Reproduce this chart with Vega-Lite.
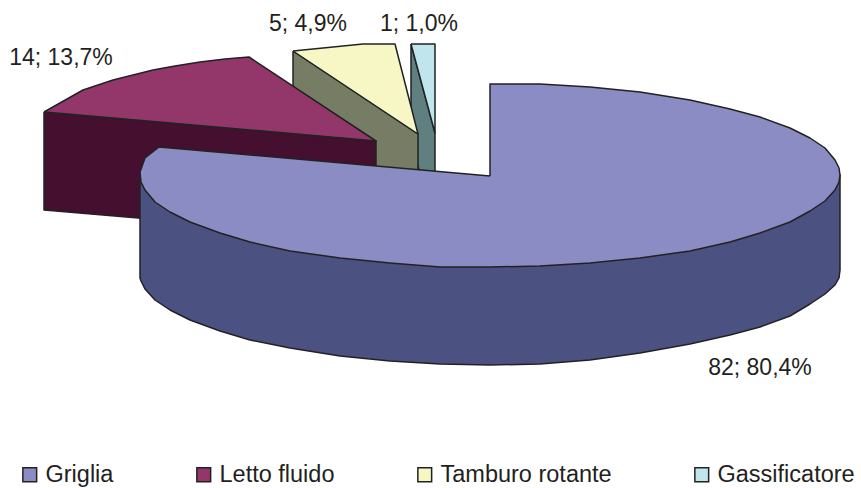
{"$schema":"https://vega.github.io/schema/vega-lite/v6.json","width":861,"height":488,"padding":0,"autosize":{"type":"none"},"background":"white","config":{"view":{"stroke":null}},"layer":[{"data":{"values":[
{"part":"Gassificatore lato","n":1,"x":411,"y":44},{"part":"Gassificatore lato","n":2,"x":435,"y":133},{"part":"Gassificatore lato","n":3,"x":435,"y":230},{"part":"Gassificatore lato","n":4,"x":411,"y":140},{"part":"Gassificatore lato","n":5,"x":411,"y":44},
{"part":"Gassificatore","n":1,"x":411,"y":44},{"part":"Gassificatore","n":2,"x":435,"y":44},{"part":"Gassificatore","n":3,"x":435,"y":133},{"part":"Gassificatore","n":4,"x":411,"y":44},
{"part":"Tamburo lato","n":1,"x":293,"y":51},{"part":"Tamburo lato","n":2,"x":418,"y":134},{"part":"Tamburo lato","n":3,"x":418,"y":200},{"part":"Tamburo lato","n":4,"x":293,"y":150},{"part":"Tamburo lato","n":5,"x":293,"y":51},
{"part":"Tamburo rotante","n":1,"x":293,"y":51},{"part":"Tamburo rotante","n":2,"x":333,"y":47},{"part":"Tamburo rotante","n":3,"x":363,"y":44},{"part":"Tamburo rotante","n":4,"x":395,"y":44},{"part":"Tamburo rotante","n":5,"x":418,"y":134},{"part":"Tamburo rotante","n":6,"x":293,"y":51},
{"part":"Letto lato","n":1,"x":44,"y":112},{"part":"Letto lato","n":2,"x":376,"y":141},{"part":"Letto lato","n":3,"x":376,"y":238},{"part":"Letto lato","n":4,"x":44,"y":210},{"part":"Letto lato","n":5,"x":44,"y":112},
{"part":"Letto fluido","n":1,"x":44,"y":112},{"part":"Letto fluido","n":2,"x":60,"y":103},{"part":"Letto fluido","n":3,"x":83,"y":90},{"part":"Letto fluido","n":4,"x":98,"y":85},{"part":"Letto fluido","n":5,"x":113,"y":80},{"part":"Letto fluido","n":6,"x":133,"y":75},{"part":"Letto fluido","n":7,"x":153,"y":70},{"part":"Letto fluido","n":8,"x":175,"y":66},{"part":"Letto fluido","n":9,"x":200,"y":62},{"part":"Letto fluido","n":10,"x":225,"y":59},{"part":"Letto fluido","n":11,"x":249,"y":57},{"part":"Letto fluido","n":12,"x":376,"y":141},{"part":"Letto fluido","n":13,"x":44,"y":112},
{"part":"Griglia lato","n":1,"x":140,"y":175},{"part":"Griglia lato","n":2,"x":140,"y":278},{"part":"Griglia lato","n":3,"x":141,"y":281},{"part":"Griglia lato","n":4,"x":145,"y":289},{"part":"Griglia lato","n":5,"x":155,"y":300},{"part":"Griglia lato","n":6,"x":170,"y":310},{"part":"Griglia lato","n":7,"x":190,"y":320},{"part":"Griglia lato","n":8,"x":220,"y":331},{"part":"Griglia lato","n":9,"x":250,"y":340},{"part":"Griglia lato","n":10,"x":290,"y":348},{"part":"Griglia lato","n":11,"x":340,"y":356},{"part":"Griglia lato","n":12,"x":390,"y":361},{"part":"Griglia lato","n":13,"x":440,"y":364},{"part":"Griglia lato","n":14,"x":490,"y":365},{"part":"Griglia lato","n":15,"x":540,"y":364},{"part":"Griglia lato","n":16,"x":590,"y":360},{"part":"Griglia lato","n":17,"x":640,"y":353},{"part":"Griglia lato","n":18,"x":690,"y":344},{"part":"Griglia lato","n":19,"x":730,"y":335},{"part":"Griglia lato","n":20,"x":760,"y":327},{"part":"Griglia lato","n":21,"x":790,"y":316},{"part":"Griglia lato","n":22,"x":810,"y":304},{"part":"Griglia lato","n":23,"x":825,"y":294},{"part":"Griglia lato","n":24,"x":835,"y":285},{"part":"Griglia lato","n":25,"x":839,"y":278},{"part":"Griglia lato","n":26,"x":840,"y":270},{"part":"Griglia lato","n":27,"x":840,"y":175},{"part":"Griglia lato","n":28,"x":490,"y":200},{"part":"Griglia lato","n":29,"x":140,"y":175},
{"part":"Griglia","n":1,"x":490,"y":176},{"part":"Griglia","n":2,"x":490,"y":84},{"part":"Griglia","n":3,"x":540,"y":84},{"part":"Griglia","n":4,"x":590,"y":87},{"part":"Griglia","n":5,"x":640,"y":92},{"part":"Griglia","n":6,"x":690,"y":100},{"part":"Griglia","n":7,"x":730,"y":109},{"part":"Griglia","n":8,"x":760,"y":117},{"part":"Griglia","n":9,"x":790,"y":128},{"part":"Griglia","n":10,"x":810,"y":138},{"part":"Griglia","n":11,"x":825,"y":148},{"part":"Griglia","n":12,"x":835,"y":160},{"part":"Griglia","n":13,"x":839,"y":168},{"part":"Griglia","n":14,"x":840,"y":175},{"part":"Griglia","n":15,"x":839,"y":182},{"part":"Griglia","n":16,"x":835,"y":190},{"part":"Griglia","n":17,"x":825,"y":201},{"part":"Griglia","n":18,"x":810,"y":211},{"part":"Griglia","n":19,"x":790,"y":222},{"part":"Griglia","n":20,"x":760,"y":233},{"part":"Griglia","n":21,"x":730,"y":242},{"part":"Griglia","n":22,"x":690,"y":251},{"part":"Griglia","n":23,"x":640,"y":258},{"part":"Griglia","n":24,"x":590,"y":263},{"part":"Griglia","n":25,"x":540,"y":266},{"part":"Griglia","n":26,"x":490,"y":267},{"part":"Griglia","n":27,"x":440,"y":267},{"part":"Griglia","n":28,"x":390,"y":263},{"part":"Griglia","n":29,"x":340,"y":258},{"part":"Griglia","n":30,"x":290,"y":251},{"part":"Griglia","n":31,"x":250,"y":242},{"part":"Griglia","n":32,"x":220,"y":233},{"part":"Griglia","n":33,"x":190,"y":222},{"part":"Griglia","n":34,"x":170,"y":212},{"part":"Griglia","n":35,"x":155,"y":202},{"part":"Griglia","n":36,"x":145,"y":190},{"part":"Griglia","n":37,"x":141,"y":182},{"part":"Griglia","n":38,"x":140,"y":172},{"part":"Griglia","n":39,"x":145,"y":158},{"part":"Griglia","n":40,"x":159,"y":147},{"part":"Griglia","n":41,"x":490,"y":176}
]},"mark":{"type":"line","stroke":"#222222","strokeWidth":1.5,"strokeJoin":"round","interpolate":"linear"},"encoding":{"x":{"field":"x","type":"quantitative","scale":{"domain":[0,861]},"axis":null},"y":{"field":"y","type":"quantitative","scale":{"domain":[488,0]},"axis":null},"order":{"field":"n","type":"quantitative"},"detail":{"field":"part"},"fill":{"field":"part","type":"nominal","sort":null,"scale":{"domain":["Griglia","Letto fluido","Tamburo rotante","Gassificatore","Griglia lato","Letto lato","Tamburo lato","Gassificatore lato"],"range":["#8A8CC3","#93366A","#F7F6C5","#C0E5EC","#4B5282","#45102F","#777C64","#5F7F80"]},"legend":{"title":null,"values":["Griglia","Letto fluido","Tamburo rotante","Gassificatore"],"orient":"none","legendX":18,"legendY":463,"direction":"horizontal","columns":4,"gridAlign":"none","columnPadding":78,"symbolType":"square","symbolSize":190,"symbolStrokeColor":"#222222","symbolStrokeWidth":1.5,"labelFont":"Liberation Sans","labelFontSize":23.5,"labelColor":"#231F20","labelLimit":300,"labelOffset":4}}}},
{"data":{"values":[{"slice":"Griglia","value":82,"pct":"80,4%","label":"82; 80,4%","x":760,"y":368},{"slice":"Letto fluido","value":14,"pct":"13,7%","label":"14; 13,7%","x":61,"y":58},{"slice":"Tamburo rotante","value":5,"pct":"4,9%","label":"5; 4,9%","x":308,"y":24},{"slice":"Gassificatore","value":1,"pct":"1,0%","label":"1; 1,0%","x":419,"y":24}]},"mark":{"type":"text","font":"Liberation Sans","fontSize":23,"color":"#231F20","align":"center","baseline":"middle"},"encoding":{"x":{"field":"x","type":"quantitative","scale":{"domain":[0,861]},"axis":null},"y":{"field":"y","type":"quantitative","scale":{"domain":[488,0]},"axis":null},"text":{"field":"label"}}}]}
